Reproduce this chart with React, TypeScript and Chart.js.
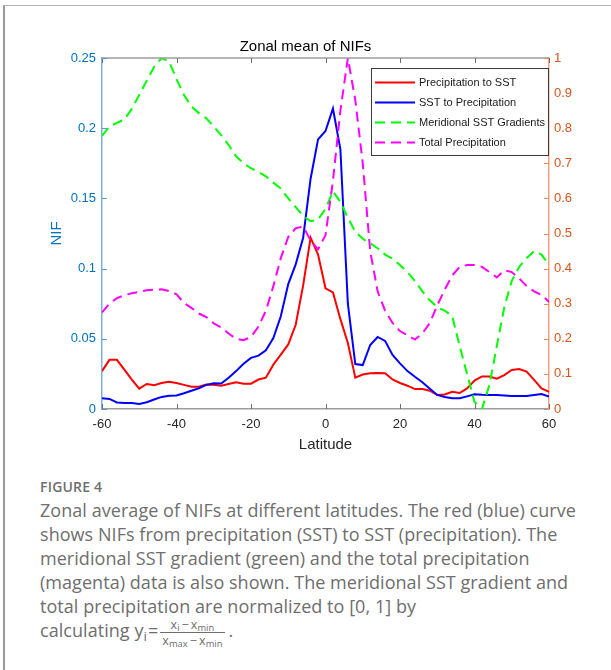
import React, { useEffect, useRef } from 'react';
import { Chart, registerables } from 'chart.js';

Chart.register(...registerables);

// ---------- data ----------
const latitudes = [
  -60, -58, -56, -54, -52, -50, -48, -46, -44, -42, -40, -38, -36, -34, -32, -30,
  -28, -26, -24, -22, -20, -18, -16, -14, -12, -10, -8, -6, -4, -2, 0, 2, 4, 6, 8,
  10, 12, 14, 16, 18, 20, 22, 24, 26, 28, 30, 32, 34, 36, 38, 40, 42, 44, 46, 48,
  50, 52, 54, 56, 58, 60,
];

const precipToSST = [
  0.027, 0.035, 0.035, 0.028, 0.021, 0.0145, 0.0178, 0.017, 0.0185, 0.0194, 0.0185,
  0.0172, 0.0158, 0.0158, 0.0175, 0.0172, 0.0166, 0.0178, 0.019, 0.018, 0.018, 0.021,
  0.0223, 0.0316, 0.0387, 0.046, 0.06, 0.088, 0.122, 0.11, 0.086, 0.083, 0.064, 0.047,
  0.0223, 0.0246, 0.0255, 0.0256, 0.0254, 0.021, 0.0185, 0.0166, 0.0142, 0.0142, 0.013,
  0.01, 0.0104, 0.0123, 0.0114, 0.0147, 0.0202, 0.0232, 0.0232, 0.0216, 0.0242, 0.0278,
  0.0285, 0.0266, 0.0207, 0.0147, 0.0123,
];

const sstToPrecip = [
  0.0076, 0.0072, 0.0047, 0.0042, 0.0043, 0.0035, 0.0048, 0.0068, 0.0086, 0.0095, 0.0096,
  0.0112, 0.013, 0.0148, 0.0172, 0.0183, 0.0182, 0.0222, 0.027, 0.0322, 0.0364, 0.038,
  0.0418, 0.0505, 0.066, 0.089, 0.103, 0.122, 0.164, 0.192, 0.198, 0.214, 0.185, 0.075,
  0.032, 0.0313, 0.0456, 0.0513, 0.0485, 0.0385, 0.0325, 0.027, 0.023, 0.019, 0.0145,
  0.01, 0.0085, 0.0077, 0.0076, 0.009, 0.0105, 0.0101, 0.01, 0.01, 0.0097, 0.0093,
  0.0093, 0.0093, 0.01, 0.0107, 0.0088,
];

const meridionalGradient = [
  0.778, 0.805, 0.815, 0.825, 0.855, 0.895, 0.935, 0.975, 1.0, 0.99, 0.94, 0.895, 0.862,
  0.843, 0.828, 0.805, 0.78, 0.752, 0.72, 0.7, 0.686, 0.675, 0.663, 0.645, 0.628, 0.6,
  0.575, 0.55, 0.535, 0.54, 0.57, 0.62, 0.59, 0.545, 0.505, 0.485, 0.472, 0.458, 0.44,
  0.428, 0.41, 0.39, 0.365, 0.335, 0.31, 0.29, 0.28, 0.265, 0.18, 0.1, 0.02, 0.0, 0.068,
  0.18, 0.29, 0.365, 0.405, 0.43, 0.45, 0.44, 0.41,
];

const totalPrecip = [
  0.275, 0.3, 0.316, 0.324, 0.33, 0.334, 0.338, 0.34, 0.341, 0.336, 0.327, 0.302, 0.288,
  0.272, 0.262, 0.244, 0.232, 0.215, 0.2, 0.196, 0.205, 0.235, 0.28, 0.35, 0.43, 0.49,
  0.515, 0.52, 0.48, 0.455, 0.495, 0.65, 0.85, 1.0, 0.88, 0.7, 0.45, 0.335, 0.28, 0.245,
  0.222, 0.21, 0.198, 0.215, 0.245, 0.295, 0.34, 0.38, 0.405, 0.41, 0.41, 0.405, 0.39,
  0.375, 0.395, 0.39, 0.372, 0.35, 0.335, 0.325, 0.305,
];

const seriesLabels = [
  'Precipitation to SST',
  'SST to Precipitation',
  'Meridional SST Gradients',
  'Total Precipitation',
];

const xTicks = [-60, -40, -20, 0, 20, 40, 60];
const xTickLabels = ['-60', '-40', '-20', '0', '20', '40', '60'];
const leftTicks = [0, 0.05, 0.1, 0.15, 0.2, 0.25];
const leftTickLabels = ['0', '0.05', '0.1', '0.15', '0.2', '0.25'];
const rightTicks = [0, 0.1, 0.2, 0.3, 0.4, 0.5, 0.6, 0.7, 0.8, 0.9, 1];
const rightTickLabels = ['0', '0.1', '0.2', '0.3', '0.4', '0.5', '0.6', '0.7', '0.8', '0.9', '1'];

const chartTitle = 'Zonal mean of NIFs';
const xTitle = 'Latitude';
const yTitle = 'NIF';

// ---------- style ----------
const FONT = '"Liberation Sans", Arial, Helvetica, sans-serif';
const LEFT_COLOR = '#0072BD';
const RIGHT_COLOR = '#D95319';
const seriesColors = ['#FF0000', '#0000FF', '#00FF00', '#FF00FF'];
const seriesDashed = [false, false, true, true];
const DASH = [10, 6];

const pairs = (vals: number[]) => latitudes.map((x, i) => ({ x, y: vals[i] }));

const decorPlugin = {
  id: 'decor',
  afterDatasetsDraw(chart: any) {
    const { ctx, chartArea: a, scales } = chart;
    const seg = (x1: number, y1: number, x2: number, y2: number) => {
      ctx.beginPath();
      ctx.moveTo(x1, y1);
      ctx.lineTo(x2, y2);
      ctx.stroke();
    };
    ctx.save();
    // top box line
    ctx.strokeStyle = '#9c9c9c';
    ctx.lineWidth = 1.5;
    seg(a.left, a.top, a.right, a.top);
    // x ticks (inward, top & bottom)
    ctx.lineWidth = 1;
    ctx.strokeStyle = '#6e6e6e';
    xTicks.forEach((v) => {
      const px = Math.round(scales.x.getPixelForValue(v)) + 0.5;
      seg(px, a.bottom, px, a.bottom - 5);
      seg(px, a.top, px, a.top + 5);
    });
    // left ticks
    ctx.strokeStyle = '#5a9bd0';
    leftTicks.forEach((v) => {
      const py = Math.round(scales.y.getPixelForValue(v)) + 0.5;
      seg(a.left, py, a.left + 5, py);
    });
    // right ticks
    ctx.strokeStyle = '#e48a62';
    rightTicks.forEach((v) => {
      const py = Math.round(scales.y1.getPixelForValue(v)) + 0.5;
      seg(a.right, py, a.right - 5, py);
    });

    // legend box
    const bx = 371, by = 68, bw = 177, bh = 87;
    ctx.fillStyle = '#ffffff';
    ctx.fillRect(bx, by, bw, bh);
    ctx.strokeStyle = '#3a3a3a';
    ctx.lineWidth = 1;
    ctx.strokeRect(bx + 0.5, by + 0.5, bw, bh);
    const rows = [82.5, 102.5, 122.5, 142.5];
    ctx.font = `11px ${FONT}`;
    ctx.textBaseline = 'middle';
    ctx.textAlign = 'left';
    chart.data.datasets.forEach((ds: any, i: number) => {
      const y = rows[i];
      ctx.strokeStyle = ds.borderColor;
      ctx.lineWidth = 2;
      ctx.setLineDash(seriesDashed[i] ? DASH : []);
      seg(375, y, 415, y);
      ctx.setLineDash([]);
      ctx.fillStyle = '#1a1a1a';
      ctx.fillText(ds.label, 419, y);
    });
    ctx.restore();
  },
};

function ZonalChart() {
  const ref = useRef<HTMLCanvasElement | null>(null);
  useEffect(() => {
    if (!ref.current) return;
    const series = [precipToSST, sstToPrecip, meridionalGradient, totalPrecip];
    const axes = ['y', 'y', 'y1', 'y1'];
    const orders = [4, 3, 2, 1];
    const chart = new Chart(ref.current, {
      type: 'line',
      data: {
        datasets: series.map((vals, i) => ({
          label: seriesLabels[i],
          data: pairs(vals),
          yAxisID: axes[i],
          borderColor: seriesColors[i],
          backgroundColor: seriesColors[i],
          borderWidth: 2,
          borderDash: seriesDashed[i] ? DASH : [],
          pointRadius: 0,
          tension: 0,
          fill: false,
          order: orders[i],
        })),
      },
      options: {
        animation: false,
        responsive: false,
        devicePixelRatio: 1,
        layout: { padding: 0 },
        plugins: {
          legend: { display: false },
          tooltip: { enabled: false },
          title: {
            display: true,
            text: chartTitle,
            color: '#000000',
            font: { family: FONT, size: 15, weight: 'normal' },
            padding: { top: 38, bottom: 2 },
          },
        },
        scales: {
          x: {
            type: 'linear',
            position: 'bottom',
            min: -60,
            max: 60,
            afterBuildTicks: (s: any) => {
              s.ticks = xTicks.map((v) => ({ value: v }));
            },
            afterFit: (s: any) => {
              s.height = 61;
            },
            ticks: {
              callback: (_v: any, i: number) => xTickLabels[i],
              color: '#262626',
              font: { family: FONT, size: 13 },
              padding: 8,
              maxRotation: 0,
            },
            grid: { display: false, drawTicks: false },
            border: { display: true, color: '#9c9c9c', width: 1.5 },
            title: {
              display: true,
              text: xTitle,
              color: '#262626',
              font: { family: FONT, size: 15 },
              padding: { top: 0, bottom: 16 },
            },
          },
          y: {
            type: 'linear',
            position: 'left',
            min: 0,
            max: 0.25,
            afterBuildTicks: (s: any) => {
              s.ticks = leftTicks.map((v) => ({ value: v }));
            },
            afterFit: (s: any) => {
              s.width = 102;
            },
            ticks: {
              callback: (_v: any, i: number) => leftTickLabels[i],
              color: LEFT_COLOR,
              font: { family: FONT, size: 13 },
              padding: 6,
            },
            grid: { display: false, drawTicks: false },
            border: { display: true, color: '#7ab0dc', width: 1.5 },
            title: {
              display: true,
              text: yTitle,
              color: LEFT_COLOR,
              font: { family: FONT, size: 15 },
              padding: { top: 48, bottom: 0 },
            },
          },
          y1: {
            type: 'linear',
            position: 'right',
            min: 0,
            max: 1,
            afterBuildTicks: (s: any) => {
              s.ticks = rightTicks.map((v) => ({ value: v }));
            },
            afterFit: (s: any) => {
              s.width = 62;
            },
            ticks: {
              callback: (_v: any, i: number) => rightTickLabels[i],
              color: RIGHT_COLOR,
              font: { family: FONT, size: 13 },
              padding: 5,
            },
            grid: { display: false, drawTicks: false },
            border: { display: true, color: '#eca283', width: 1.5 },
          },
        },
      },
      plugins: [decorPlugin],
    } as any);
    return () => chart.destroy();
  }, []);
  return (
    <canvas
      ref={ref}
      width={611}
      height={470}
      style={{ position: 'absolute', left: 0, top: 0, width: 611, height: 470, display: 'block' }}
    />
  );
}

const subStyle: React.CSSProperties = { fontSize: '0.75em', verticalAlign: '-0.25em', lineHeight: 0 };
const opStyle: React.CSSProperties = { margin: '0 2px' };

export default function App() {
  return (
    <div style={{ position: 'absolute', left: 0, top: 0, width: 611, height: 670, overflow: 'hidden', background: '#ffffff' }}>
      <div
        style={{
          position: 'absolute',
          left: 3,
          top: 5,
          width: 620,
          height: 700,
          borderTop: '1.5px solid #b4b4b4',
          borderLeft: '2px solid #9a9a9a',
          boxSizing: 'border-box',
        }}
      />
      <ZonalChart />
      <div
        style={{
          position: 'absolute',
          left: 40,
          top: 476,
          fontFamily: '"Open Sans", "Noto Sans", sans-serif',
          color: '#6e6e6e',
          whiteSpace: 'nowrap',
        }}
      >
        <div style={{ fontSize: 14, fontWeight: 600, lineHeight: '22px', letterSpacing: '0.2px' }}>FIGURE 4</div>
        <div style={{ fontSize: 18, lineHeight: '24px', letterSpacing: '0.05px' }}>
          <div>Zonal average of NIFs at different latitudes. The red (blue) curve</div>
          <div>shows NIFs from precipitation (SST) to SST (precipitation). The</div>
          <div>meridional SST gradient (green) and the total precipitation</div>
          <div>(magenta) data is also shown. The meridional SST gradient and</div>
          <div>total precipitation are normalized to [0, 1] by</div>
          <div>
            calculating y<span style={subStyle}>i</span>
            <span style={{ margin: '0 1px' }}>=</span>
            <span
              style={{
                display: 'inline-block',
                verticalAlign: 'middle',
                textAlign: 'center',
                fontSize: 12.5,
                lineHeight: '13px',
                margin: '0 4px 0 1px',
              }}
            >
              <span style={{ display: 'block', borderBottom: '1px solid #6e6e6e', padding: '0 2px 1px' }}>
                x<span style={subStyle}>i</span>
                <span style={opStyle}>−</span>x<span style={subStyle}>min</span>
              </span>
              <span style={{ display: 'block', padding: '1px 2px 0' }}>
                x<span style={subStyle}>max</span>
                <span style={opStyle}>−</span>x<span style={subStyle}>min</span>
              </span>
            </span>
            .
          </div>
        </div>
      </div>
    </div>
  );
}
